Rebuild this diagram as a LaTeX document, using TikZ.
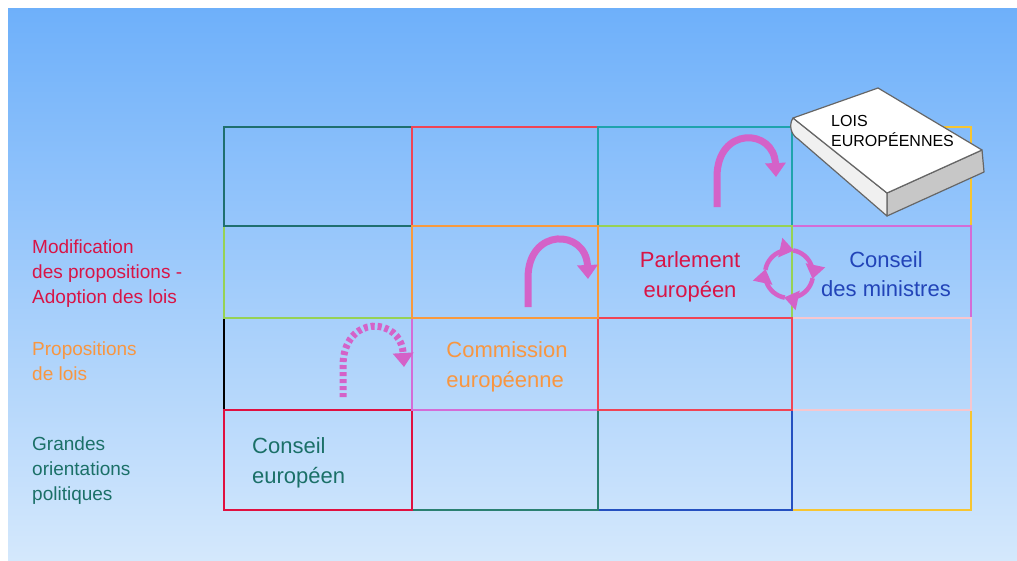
\documentclass[tikz,border=0pt]{standalone}
\usepackage{fontspec}
\setmainfont{Liberation Sans}
\usepackage{tikz}
\usetikzlibrary{positioning,arrows.meta}
\definecolor{bgtop}{HTML}{6EB0FA}
\definecolor{bgbot}{HTML}{D4E8FC}
\definecolor{tealdark}{HTML}{1F6F6F}
\definecolor{redline}{HTML}{F04454}
\definecolor{tealline}{HTML}{1FA3AD}
\definecolor{goldline}{HTML}{F7C531}
\definecolor{greenline}{HTML}{96D255}
\definecolor{orangeline}{HTML}{F89A3E}
\definecolor{violetline}{HTML}{D46CD6}
\definecolor{pinkline}{HTML}{F7C6CE}
\definecolor{crimsonline}{HTML}{E0103F}
\definecolor{tealmid}{HTML}{2A8071}
\definecolor{blueline}{HTML}{2450C0}
\definecolor{textred}{HTML}{D81446}
\definecolor{textblue}{HTML}{2244B8}
\definecolor{textorange}{HTML}{F89640}
\definecolor{textteal}{HTML}{1B7068}
\definecolor{arrowmag}{HTML}{D462C8}
\tikzset{
  cell/.style={draw,line width=2pt,inner sep=0pt,outer sep=0pt},
  rowlabel/.style={anchor=west,align=left,inner sep=0pt,font=\fontsize{19}{25}\selectfont},
  body/.style={align=center,inner sep=0pt,font=\fontsize{22}{29.5}\selectfont},
  loiarrow/.style={draw=arrowmag,line width=7pt,-{Triangle[length=14pt,width=20pt]}},
  ringarrow/.style={draw=arrowmag,line width=4.5pt,-{Triangle[length=14pt,width=19pt]}},
  bookpart/.style={draw=black!60,line width=1.2pt,line join=round}
}

\begin{document}
\begin{tikzpicture}[x=1pt,y=-1pt]
  \useasboundingbox (0,0) rectangle (1017,560);
  \fill[top color=bgtop,bottom color=bgbot] (8,8) rectangle (1017,560);

  % grid, drawn so that the right borders win
  \node[cell,draw=goldline,minimum width=179pt,minimum height=100pt] (c44) at (881.5,460) {};
  \node[cell,draw=blueline,minimum width=194pt,minimum height=100pt] (c43) at (695,460) {};
  \node[cell,draw=tealmid,minimum width=186pt,minimum height=100pt] (c42) at (505,460) {};
  \node[cell,draw=black,minimum width=188pt,minimum height=92pt] (c31) at (318,364) {};
  \node[cell,draw=crimsonline,minimum width=188pt,minimum height=100pt] (c41) at (318,460) {};
  \node[cell,draw=violetline,minimum width=186pt,minimum height=92pt] (c32) at (505,364) {};
  \node[cell,draw=goldline,minimum width=179pt,minimum height=99pt] (c14) at (881.5,176.5) {};
  \node[cell,draw=violetline,minimum width=179pt,minimum height=92pt] (c24) at (881.5,272) {};
  \node[cell,draw=greenline,minimum width=188pt,minimum height=92pt] (c21) at (318,272) {};
  \node[cell,draw=tealdark,minimum width=188pt,minimum height=99pt] (c11) at (318,176.5) {};
  \node[cell,draw=redline,minimum width=186pt,minimum height=99pt] (c12) at (505,176.5) {};
  \node[cell,draw=pinkline,minimum width=179pt,minimum height=92pt] (c34) at (881.5,364) {};
  \node[cell,draw=tealline,minimum width=194pt,minimum height=99pt] (c13) at (695,176.5) {};
  \node[cell,draw=greenline,minimum width=194pt,minimum height=92pt] (c23) at (695,272) {};
  \node[cell,draw=redline,minimum width=194pt,minimum height=92pt] (c33) at (695,364) {};
  \node[cell,draw=orangeline,minimum width=186pt,minimum height=92pt] (c22) at (505,272) {};

  % row labels
  \node[rowlabel,text=textred] (labmod) at (32,274) {Modification\\des propositions -\\Adoption des lois};
  \node[rowlabel,text=textorange] (labprop) at (32,361) {Propositions\\de lois};
  \node[rowlabel,text=textteal] (labgo) at (32,471) {Grandes\\orientations\\politiques};

  % institutions
  \node[body,text=textred] (parlement) at (690,277) {Parlement\\europ\'een};
  \node[body,text=textblue] (ministres) at (886,274) {Conseil\\des ministres};
  \node[body,text=textorange,align=left] (commission) at (507,367) {Commission\\europ\'eenne};
  \node[body,text=textteal,align=left,anchor=west] (conseileu) at (252,463) {Conseil\\europ\'een};

  % arrows
  \coordinate (a1s) at (717,207);
  \coordinate (a1e) at (776,177);
  \draw[loiarrow] (a1s) -- (717,177) .. controls (717,126) and (774,128) .. (a1e);
  \coordinate (a2s) at (528,307);
  \coordinate (a2e) at (588,279);
  \draw[loiarrow] (a2s) -- (528,278) .. controls (528,227) and (586,229) .. (a2e);
  \coordinate (a3s) at (343,397);
  \coordinate (a3e) at (404,367);
  \draw[loiarrow,dash pattern=on 4pt off 3pt] (a3s) -- (343,366) .. controls (343,314) and (401,316) .. (a3e);
  \coordinate (ring) at (789,274);
  \draw[ringarrow] (ring) ++(-170:24) arc[start angle=-170,end angle=-78,radius=24];
  \draw[ringarrow] (ring) ++(-80:24) arc[start angle=-80,end angle=12,radius=24];
  \draw[ringarrow] (ring) ++(10:24) arc[start angle=10,end angle=102,radius=24];
  \draw[ringarrow] (ring) ++(100:24) arc[start angle=100,end angle=192,radius=24];

  % book
  \draw[bookpart,fill=black!22] (887,193) -- (982,150) -- (984,172) -- (887,216) -- cycle;
  \draw[bookpart,fill=black!6] (793,118) -- (887,193) -- (887,216) -- (798,139) .. controls (790,134) and (789,124) .. cycle;
  \draw[bookpart,fill=white] (793,118) -- (878,88) -- (982,150) -- (887,193) -- cycle;
  \node[anchor=west,align=left,inner sep=0pt,font=\fontsize{16}{20}\selectfont] (loistxt) at (831,131) {LOIS\\EUROP\'EENNES};
\end{tikzpicture}
\end{document}
